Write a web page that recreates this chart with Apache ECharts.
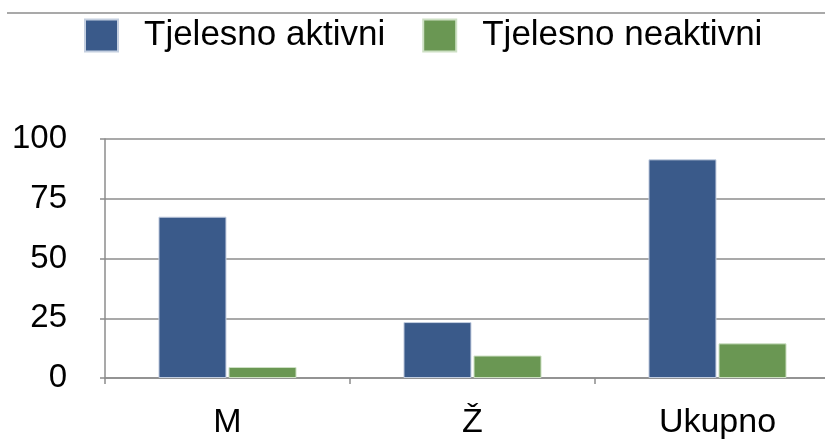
<!DOCTYPE html>
<html>
<head>
<meta charset="utf-8">
<script src="https://cdn.jsdelivr.net/npm/echarts@6/dist/echarts.min.js"></script>
<style>
html,body{margin:0;padding:0;background:#fff;}
#chart{width:825px;height:439px;}
</style>
</head>
<body>
<div id="chart"></div>
<script>
var categories = ['M', 'Ž', 'Ukupno'];
var seriesNames = ['Tjelesno aktivni', 'Tjelesno neaktivni'];
var aktivni = [67.5, 23.4, 91.5];
var neaktivni = [4.6, 9.4, 14.5];
var yTicks = [0, 25, 50, 75, 100];

var FONT = 'Liberation Sans, Arial, Helvetica, sans-serif';
var chart = echarts.init(document.getElementById('chart'), null, {renderer: 'canvas'});
chart.setOption({
  animation: false,
  backgroundColor: '#ffffff',
  textStyle: {fontFamily: FONT},
  graphic: [{
    type: 'line',
    shape: {x1: 7, y1: 13, x2: 825, y2: 13},
    style: {stroke: '#8c8c8c', lineWidth: 1.5}
  }],
  legend: {
    left: 84,
    top: 18,
    padding: 0,
    itemWidth: 33,
    itemHeight: 32,
    itemGap: 37,
    icon: 'rect',
    textStyle: {fontSize: 35, color: '#000', fontFamily: FONT, padding: [0, 0, 0, 21]},
    data: seriesNames
  },
  grid: {left: 105, top: 139, right: -15, bottom: 61, containLabel: false, outerBoundsMode: 'none'},
  xAxis: {
    type: 'category',
    data: categories,
    axisLine: {lineStyle: {color: '#8c8c8c', width: 1.5}},
    axisTick: {show: true, length: 6, lineStyle: {color: '#8c8c8c', width: 1.5}},
    axisLabel: {fontSize: 34, color: '#000', fontFamily: FONT, margin: 28}
  },
  yAxis: {
    type: 'value',
    min: yTicks[0],
    max: yTicks[yTicks.length - 1],
    interval: 25,
    axisLine: {show: true, lineStyle: {color: '#8c8c8c', width: 1.5}},
    axisTick: {show: true, length: 5, lineStyle: {color: '#8c8c8c', width: 1.5}},
    axisLabel: {fontSize: 33, color: '#000', fontFamily: FONT, margin: 38},
    splitLine: {show: true, lineStyle: {color: '#8c8c8c', width: 1.5}}
  },
  series: [{
    name: seriesNames[0],
    type: 'bar',
    data: aktivni,
    barWidth: 68,
    barGap: '3%',
    itemStyle: {color: '#3a5a8a', borderColor: '#c4cfe0', borderWidth: 1}
  }, {
    name: seriesNames[1],
    type: 'bar',
    data: neaktivni,
    barWidth: 68,
    barGap: '3%',
    itemStyle: {color: '#6a9753', borderColor: '#cde0c4', borderWidth: 1}
  }]
});
</script>
</body>
</html>
